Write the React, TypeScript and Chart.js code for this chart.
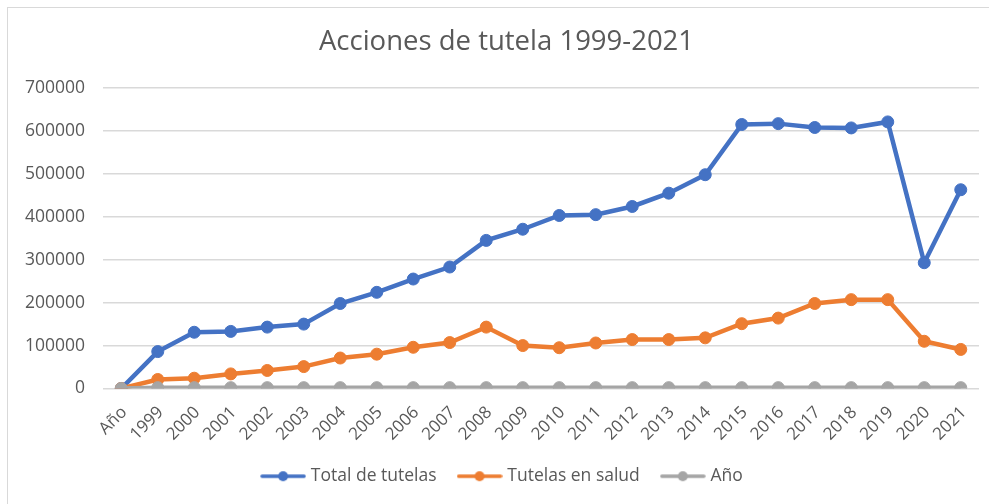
import React, { useEffect, useRef } from "react";
import { Chart, registerables } from "chart.js";

Chart.register(...registerables);

const categories = ["Año", "1999", "2000", "2001", "2002", "2003", "2004", "2005", "2006", "2007", "2008", "2009", "2010", "2011", "2012", "2013", "2014", "2015", "2016", "2017", "2018", "2019", "2020", "2021"];
const totalTutelas = [0, 86000, 131000, 133000, 143000, 150000, 198000, 224000, 255000, 283000, 345000, 371000, 403000, 405000, 424000, 455000, 498000, 615000, 617000, 608000, 607000, 621000, 293000, 463000];
const tutelasSalud = [0, 21000, 24000, 34000, 42000, 51000, 71000, 80000, 96000, 107000, 143000, 100000, 95000, 106000, 114000, 114000, 118000, 151000, 164000, 198000, 207000, 207000, 110000, 91000];
const anio = [0, 1999, 2000, 2001, 2002, 2003, 2004, 2005, 2006, 2007, 2008, 2009, 2010, 2011, 2012, 2013, 2014, 2015, 2016, 2017, 2018, 2019, 2020, 2021];
const seriesNames = ["Total de tutelas", "Tutelas en salud", "Año"];
const seriesColors = ["#4472C4", "#ED7D31", "#A5A5A5"];
const yMax = 700000;
const yStep = 100000;

function legendSymbol(color: string): HTMLCanvasElement {
  const c = document.createElement("canvas");
  c.width = 46;
  c.height = 12;
  const ctx = c.getContext("2d")!;
  ctx.strokeStyle = color;
  ctx.lineWidth = 3.5;
  ctx.lineCap = "round";
  ctx.beginPath();
  ctx.moveTo(2, 6);
  ctx.lineTo(44, 6);
  ctx.stroke();
  ctx.fillStyle = color;
  ctx.beginPath();
  ctx.arc(23, 6, 5, 0, Math.PI * 2);
  ctx.fill();
  return c;
}

const shiftBlocks = {
  id: "shiftBlocks",
  afterLayout(chart: any) {
    if (chart.legend) {
      chart.legend.left += 10;
      chart.legend.right += 10;
    }
    if (chart.titleBlock) {
      chart.titleBlock.left += 13;
      chart.titleBlock.right += 13;
    }
  },
};

export default function App() {
  const ref = useRef<HTMLCanvasElement>(null);
  useEffect(() => {
    if (!ref.current) return;
    const symbols = seriesColors.map(legendSymbol);
    const textColor = "#595959";
    const family = "'Open Sans', sans-serif";
    const seriesData = [totalTutelas, tutelasSalud, anio];
    const chart = new Chart(ref.current, {
      type: "line",
      data: {
        labels: categories,
        datasets: seriesData.map((d, i) => ({
          label: seriesNames[i],
          data: d,
          borderColor: seriesColors[i],
          backgroundColor: seriesColors[i],
          pointBackgroundColor: seriesColors[i],
          pointBorderColor: seriesColors[i],
          pointRadius: 6,
          pointBorderWidth: 1,
          borderWidth: 4.5,
          tension: 0,
          order: 3 - i,
        })),
      },
      plugins: [shiftBlocks],
      options: {
        responsive: false,
        animation: false,
        layout: { padding: { left: 8, right: 10, top: 8, bottom: 9 } },
        plugins: {
          title: {
            display: true,
            text: "Acciones de tutela 1999-2021",
            color: textColor,
            font: { family, size: 27.5, weight: "normal" },
            padding: { top: 18, bottom: 29 },
          },
          legend: {
            position: "bottom",
            labels: {
              usePointStyle: true,
              pointStyleWidth: 38,
              padding: 24,
              color: textColor,
              font: { family, size: 17.5 },
              generateLabels: (ch: any) => {
                const items = Chart.defaults.plugins.legend.labels.generateLabels(ch);
                items.sort((a: any, b: any) => a.datasetIndex - b.datasetIndex);
                return items.map((it: any) => ({ ...it, pointStyle: symbols[it.datasetIndex], fontColor: textColor }));
              },
            },
          },
          tooltip: { enabled: false },
        },
        scales: {
          x: {
            grid: { display: false },
            border: { display: false },
            offset: true,
            ticks: {
              color: textColor,
              font: { family, size: 17 },
              minRotation: 45,
              maxRotation: 45,
              padding: 6,
              labelOffset: 3,
              autoSkip: false,
            },
            afterFit: (s: any) => { s.height = 55; },
          },
          y: {
            min: 0,
            max: yMax,
            grid: { color: "#d9d9d9", lineWidth: 1.5, drawTicks: false },
            border: { display: false },
            ticks: {
              stepSize: yStep,
              color: textColor,
              font: { family, size: 17.5 },
              padding: 18,
              callback: (v: any) => String(v),
            },
            afterFit: (s: any) => { s.width = 95; },
          },
        },
      },
    });
    return () => chart.destroy();
  }, []);
  return (
    <div style={{ position: "fixed", left: 0, top: 0, width: 989, height: 504, background: "#fff", overflow: "hidden" }}>
      <div style={{ position: "absolute", left: 7, top: 7, width: 1000, height: 520, border: "1px solid #d9d9d9" }} />
      <canvas ref={ref} width={989} height={504} style={{ position: "absolute", left: 0, top: 0, width: 989, height: 504 }} />
    </div>
  );
}
